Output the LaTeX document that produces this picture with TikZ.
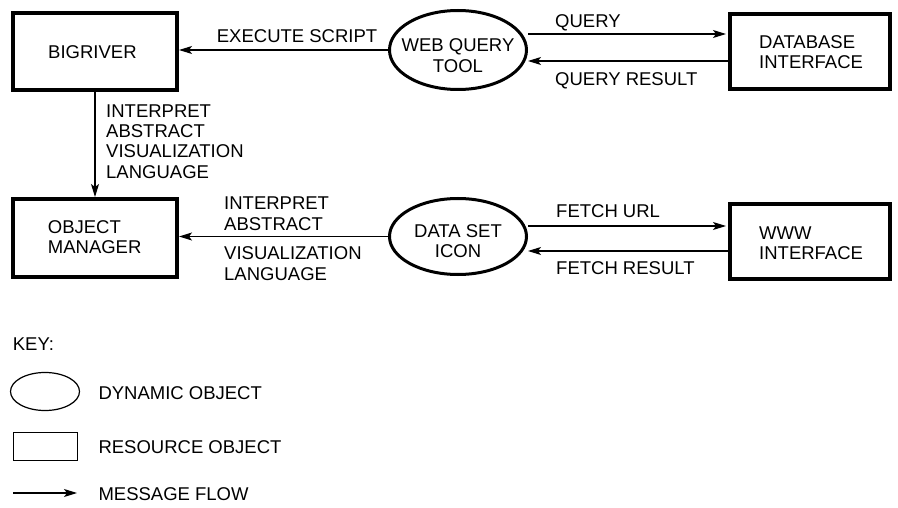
\documentclass[tikz,border=0pt]{standalone}
\usepackage{fontspec}
\setmainfont{Liberation Sans}
\usetikzlibrary{shapes.geometric,arrows.meta,calc}
\begin{document}
\begin{tikzpicture}[x=1pt,y=-1pt,
  font=\fontsize{18.5}{20.3}\selectfont,
  res/.style={draw, line width=4pt, inner sep=0pt, minimum width=160pt, minimum height=75pt},
  dyn/.style={draw, ellipse, line width=3pt, inner sep=0pt, minimum width=137pt, minimum height=79pt},
  msg/.style={line width=1.2pt, -{Stealth[length=13pt,width=8pt,inset=3pt]}},
  lbl/.style={anchor=base west, inner sep=0pt, align=left},
  clbl/.style={anchor=base, inner sep=0pt, align=center}]
\useasboundingbox (0,0) rectangle (898,508);
% resource objects
\node[res, minimum width=164pt, minimum height=77pt] (br) at (95,51.5) {};
\node[lbl] (brt) at (48,58.3) {BIGRIVER};
\node[res, minimum width=164pt, minimum height=78pt] (om) at (95,238) {};
\node[lbl] (omt) at (47.7,254) {OBJECT\\MANAGER};
\node[res] (db) at (810,51.5) {};
\node[lbl] (dbt) at (759,69) {DATABASE\\INTERFACE};
\node[res] (www) at (810,241.5) {};
\node[lbl] (wwwt) at (759,259.3) {WWW\\INTERFACE};
% dynamic objects
\node[dyn] (wqt) at (458,50) {};
\node[clbl] (wqtt) at (458,72.3) {WEB QUERY\\TOOL};
\node[dyn, minimum height=76pt] (dsi) at (458,236.5) {};
\node[clbl] (dsit) at (458,257.7) {DATA SET\\ICON};
% message flows
\draw[msg] (wqt.west) -- (wqt.west -| br.east);
\draw[msg] (br.south) -- (om.north);
\draw[msg] ($(wqt.east)+(0,-16)$) -- ($(db.west)+(-2,-17.5)$);
\draw[msg] ($(db.west)+(0,9.5)$) -- ($(wqt.east)+(0,11)$);
\draw[msg] ($(dsi.east)+(0,-10.5)$) -- ($(www.west)+(-2,-15.5)$);
\draw[msg] ($(www.west)+(0,9.5)$) -- ($(dsi.east)+(0,14.5)$);
\draw[msg] (dsi.west) -- (dsi.west -| om.east);
% labels
\node[lbl] (l1) at (216.7,42.7) {EXECUTE SCRIPT};
\node[lbl] (l2) at (106,178.3) {INTERPRET\\ABSTRACT\\VISUALIZATION\\LANGUAGE};
\node[lbl] (l3) at (555,28) {QUERY};
\node[lbl] (l4) at (555,85.5) {QUERY RESULT};
\node[lbl] (l5) at (224,230) {INTERPRET\\ABSTRACT};
\node[lbl] (l6) at (224,280) {VISUALIZATION\\LANGUAGE};
\node[lbl] (l7) at (556,217.7) {FETCH URL};
\node[lbl] (l8) at (556,275) {FETCH RESULT};
% key
\node[lbl] (key) at (12.7,350) {KEY:};
\node[draw, ellipse, line width=1.2pt, minimum width=69pt, minimum height=38pt, inner sep=0pt] (kd) at (45,391.5) {};
\node[lbl] (kdt) at (98.3,399.3) {DYNAMIC OBJECT};
\node[draw, line width=1.2pt, minimum width=64pt, minimum height=28pt, inner sep=0pt] (kr) at (45.5,446.5) {};
\node[lbl] (krt) at (98.3,453.3) {RESOURCE OBJECT};
\coordinate (ka) at (13,493);
\coordinate (kb) at (77,493);
\draw[msg] (ka) -- (kb);
\node[lbl] (kat) at (98.3,500) {MESSAGE FLOW};
\end{tikzpicture}
\end{document}
